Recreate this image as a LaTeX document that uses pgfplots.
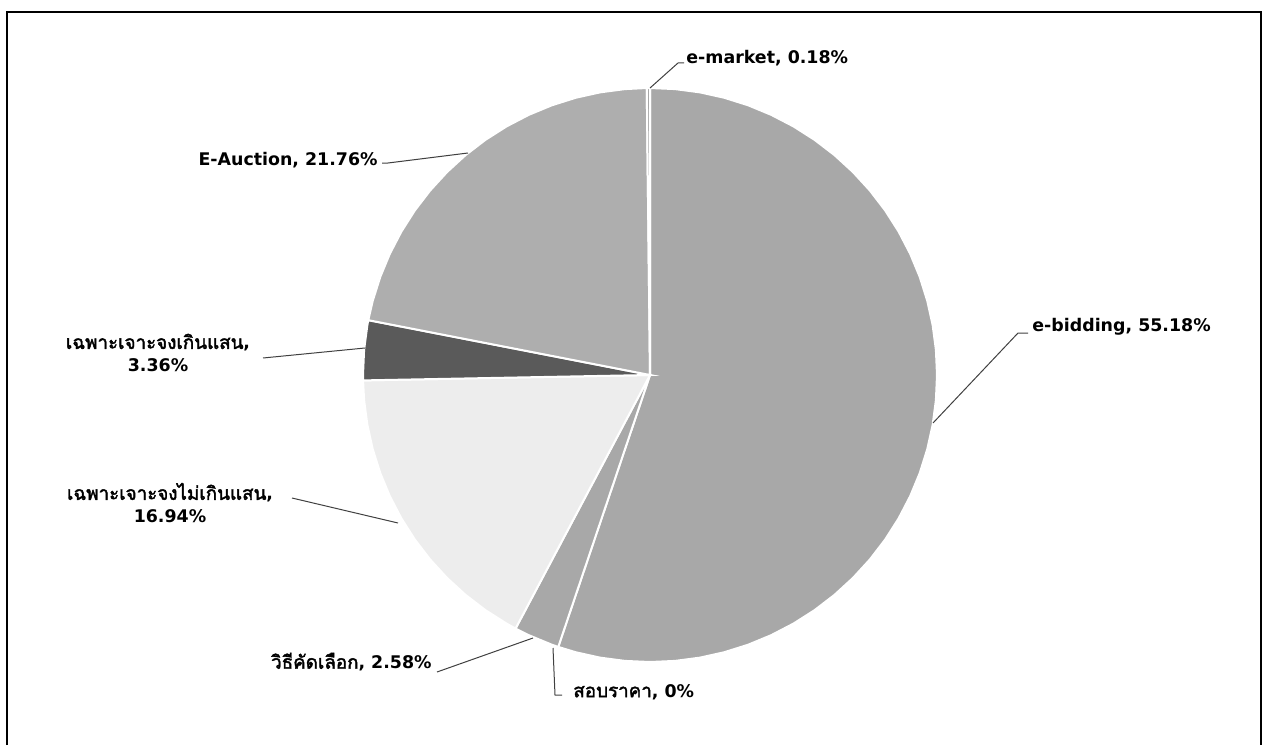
\documentclass[border=0pt]{standalone}
\usepackage{fontspec}
\setmainfont{DejaVu Sans}
\newfontfamily\thaifont[Script=Thai,Scale=1.08,AutoFakeBold=2.2]{Loma}
\usepackage{pgfplots}
\pgfplotsset{compat=1.18}
\definecolor{sliceA}{HTML}{A8A8A8}
\definecolor{sliceB}{HTML}{AEAEAE}
\definecolor{sliceDark}{HTML}{5A5A5A}
\definecolor{sliceLight}{HTML}{EDEDED}
\definecolor{leader}{HTML}{404040}
\tikzset{lbl/.style={font=\bfseries\fontsize{8.7}{11.5}\selectfont,text=black,inner sep=0pt},
  ldr/.style={draw=leader,line width=0.5pt}}
\begin{document}
\begin{tikzpicture}
\begin{axis}[width=632pt,height=368pt,scale only axis,hide axis,clip=false,
  xmin=-650,xmax=614,ymin=-361,ymax=375]
\path (axis cs:-650,-361) rectangle (axis cs:614,375);
% shares (%): e-bidding 55.18, สอบราคา 0, วิธีคัดเลือก 2.58, ไม่เกินแสน 16.94, เกินแสน 3.36, E-Auction 21.76, e-market 0.18
% polar coordinates (angle in degrees, radius 287), clockwise from 12 o'clock
% e-bidding 55.18%
\addplot[data cs=polar,fill=sliceA,draw=white,line width=1pt] coordinates {
(0,0) (-108.648,287) (-105,287) (-100,287) (-95,287) (-90,287) (-85,287) (-80,287) (-75,287) (-70,287) (-65,287) (-60,287) (-55,287) (-50,287) (-45,287) (-40,287) (-35,287) (-30,287) (-25,287) (-20,287) (-15,287) (-10,287) (-5,287) (0,287) (5,287) (10,287) (15,287) (20,287) (25,287) (30,287) (35,287) (40,287) (45,287) (50,287) (55,287) (60,287) (65,287) (70,287) (75,287) (80,287) (85,287) (90,287) (0,0)} -- cycle;
% วิธีคัดเลือก 2.58%
\addplot[data cs=polar,fill=sliceA,draw=white,line width=1pt] coordinates {
(0,0) (-117.936,287) (-115,287) (-110,287) (-108.648,287) (0,0)} -- cycle;
% เฉพาะเจาะจงไม่เกินแสน 16.94%
\addplot[data cs=polar,fill=sliceLight,draw=white,line width=1pt] coordinates {
(0,0) (-178.92,287) (-175,287) (-170,287) (-165,287) (-160,287) (-155,287) (-150,287) (-145,287) (-140,287) (-135,287) (-130,287) (-125,287) (-120,287) (-117.936,287) (0,0)} -- cycle;
% เฉพาะเจาะจงเกินแสน 3.36%
\addplot[data cs=polar,fill=sliceDark,draw=white,line width=1pt] coordinates {
(0,0) (-191.016,287) (-190,287) (-185,287) (-180,287) (-178.92,287) (0,0)} -- cycle;
% E-Auction 21.76%
\addplot[data cs=polar,fill=sliceB,draw=white,line width=1pt] coordinates {
(0,0) (-269.352,287) (-265,287) (-260,287) (-255,287) (-250,287) (-245,287) (-240,287) (-235,287) (-230,287) (-225,287) (-220,287) (-215,287) (-210,287) (-205,287) (-200,287) (-195,287) (-191.016,287) (0,0)} -- cycle;
% e-market 0.18%
\addplot[data cs=polar,fill=sliceA,draw=white,line width=1pt] coordinates {
(0,0) (-270,287) (-269.352,287) (0,0)} -- cycle;

% border (left, top, right)
\draw[black,line width=1.3pt] (axis cs:-643,-370) -- (axis cs:-643,363) -- (axis cs:611,363) -- (axis cs:611,-370);

% leaders and labels
\draw[ldr] (axis cs:0,287) -- (axis cs:28,312) -- (axis cs:34,312);
\node[lbl,anchor=west] at (axis cs:36,317) {e-market, 0.18\%};

\draw[ldr] (axis cs:-268,212) -- (axis cs:-262,212) -- (axis cs:-182,222);
\node[lbl,anchor=east] at (axis cs:-272,215) {E-Auction, 21.76\%};

\draw[ldr] (axis cs:283,-48) -- (axis cs:368,42) -- (axis cs:378,42);
\node[lbl,anchor=west] at (axis cs:382,48) {e-bidding, 55.18\%};

\draw[ldr] (axis cs:-387,17) -- (axis cs:-285,27);
\node[lbl,align=center] at (axis cs:-492,22) {{\thaifont เฉพาะเจาะจงเกินแสน},\\3.36\%};

\draw[ldr] (axis cs:-358,-123) -- (axis cs:-252,-148);
\node[lbl,align=center] at (axis cs:-480,-128) {{\thaifont เฉพาะเจาะจงไม่เกินแสน},\\16.94\%};

\draw[ldr] (axis cs:-213,-297) -- (axis cs:-117,-263);
\node[lbl,anchor=east] at (axis cs:-218,-287) {{\thaifont วิธีคัดเลือก}, 2.58\%};

\draw[ldr] (axis cs:-97,-273) -- (axis cs:-95,-320) -- (axis cs:-88,-320);
\node[lbl,anchor=west] at (axis cs:-77,-317) {{\thaifont สอบราคา}, 0\%};
\end{axis}
\end{tikzpicture}
\end{document}
